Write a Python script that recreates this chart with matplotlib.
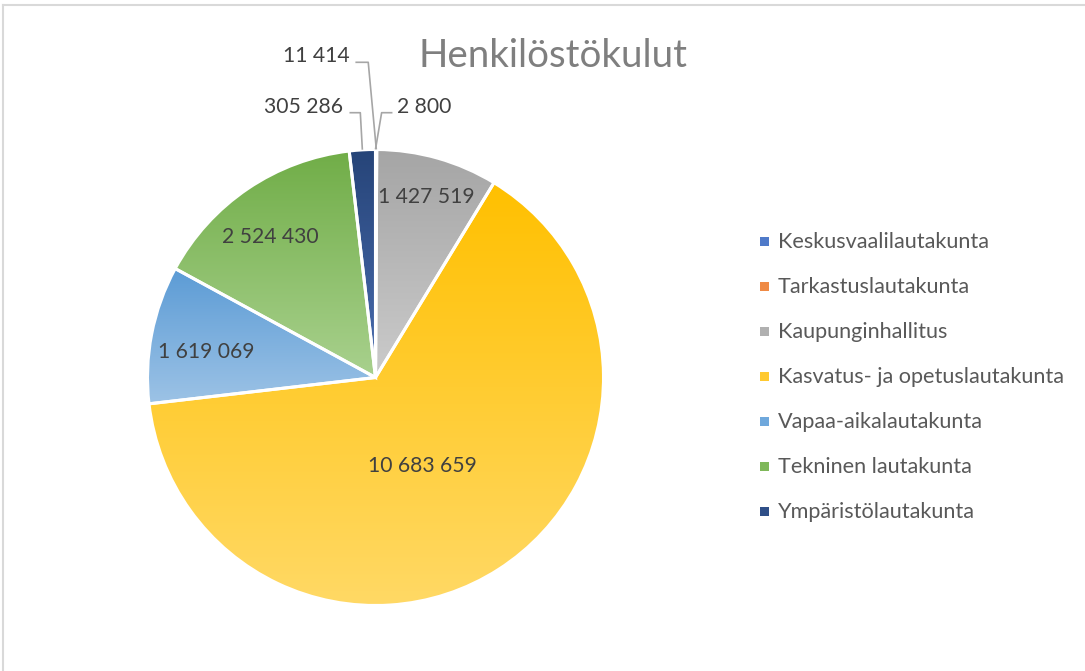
import numpy as np
import matplotlib
matplotlib.use("Agg")
import matplotlib.pyplot as plt
from matplotlib.colors import to_rgb, LinearSegmentedColormap
from matplotlib.patches import Wedge, Rectangle
from matplotlib.lines import Line2D

# ---- data ----
categories = ["Keskusvaalilautakunta", "Tarkastuslautakunta", "Kaupunginhallitus",
              "Kasvatus- ja opetuslautakunta", "Vapaa-aikalautakunta",
              "Tekninen lautakunta", "Ympäristölautakunta"]
values = [2800, 11414, 1427519, 10683659, 1619069, 2524430, 305286]
value_labels = ["2 800", "11 414", "1 427 519", "10 683 659", "1 619 069", "2 524 430", "305 286"]
title = "Henkilöstökulut"

# ---- styles ----
top_colors = ["#4472C4", "#ED7D31", "#A5A5A5", "#FFC000", "#5B9BD5", "#70AD47", "#264478"]
bottom_colors = ["#8FAADC", "#F4B183", "#CBCBCB", "#FFD966", "#9DC3E6", "#A9D18E", "#4A6DB0"]
legend_colors = ["#4F7AC9", "#EF8A45", "#B0B0B0", "#FFC930", "#6FA8DC", "#7FB85A", "#2F4F88"]

W, H = 1085, 671
plt.rcParams['font.family'] = ['Lato', 'DejaVu Sans']

fig = plt.figure(figsize=(W / 100, H / 100), dpi=100)
ax = fig.add_axes([0, 0, 1, 1])

def Y(py):
    return H - py

cx, cy, R = 375.5, Y(377.5), 228

wedges, _ = ax.pie(values, colors=top_colors, startangle=90, counterclock=False,
                   center=(cx, cy), radius=R,
                   wedgeprops=dict(edgecolor='none', linewidth=0))
ax.set_xlim(0, W)
ax.set_ylim(0, H)
ax.set_aspect('equal')
ax.axis('off')

# gradient fills, clipped to each wedge
for w, ct, cb in zip(wedges, top_colors, bottom_colors):
    verts = w.get_patch_transform().transform(w.get_path().vertices)
    x0, y0 = verts.min(axis=0)
    x1, y1 = verts.max(axis=0)
    cmap = LinearSegmentedColormap.from_list("g", [to_rgb(cb), to_rgb(ct)])
    grad = np.linspace(0, 1, 256).reshape(-1, 1)
    im = ax.imshow(grad, cmap=cmap, extent=(x0 - 1, x1 + 1, y0 - 1, y1 + 1),
                   origin='lower', aspect='auto', zorder=1.5, interpolation='bilinear')
    im.set_clip_path(w)
    ew = Wedge((cx, cy), R, w.theta1, w.theta2, facecolor='none',
               edgecolor='white', linewidth=2.2, zorder=2)
    ax.add_patch(ew)
ax.set_xlim(0, W)
ax.set_ylim(0, H)

def cw_dir(a_deg):
    a = np.radians(a_deg)
    return np.sin(a), np.cos(a)

# inside labels: (radial fraction, angle offset clockwise deg)
inside = {2: (0.82, -0.2), 3: (0.44, 4.7), 4: (0.75, -2.3), 5: (0.77, -2.8)}
label_color = "#404040"
lab_fs = 15.2
for i, (frac, off) in inside.items():
    w = wedges[i]
    mid_cw = 90 - (w.theta1 + w.theta2) / 2
    dx, dy = cw_dir(mid_cw + off)
    ax.text(cx + frac * R * dx, cy + frac * R * dy, value_labels[i], ha='center', va='center',
            fontsize=lab_fs, color=label_color, zorder=5)

# outside labels with leader lines: (elbow dx from edge, baseline pixel y, text gap, side)
outside = {0: (6, 112.7, 10, 'left'), 1: (-8, 62.3, 12, 'right'), 6: (-2, 112.7, 10, 'right')}
for i, (edx, by, horiz, side) in outside.items():
    w = wedges[i]
    mid_cw = 90 - (w.theta1 + w.theta2) / 2
    dx, dy = cw_dir(mid_cw)
    ex, ey = cx + R * dx, cy + R * dy + 1
    elx, ely = ex + edx, Y(by)
    if side == 'left':
        hx = elx + horiz
        tx = hx + 5
        ha = 'left'
    else:
        hx = elx - horiz
        tx = hx - 7
        ha = 'right'
    ax.add_line(Line2D([ex, elx, hx], [ey, ely, ely], color='#A6A6A6', lw=1.2, zorder=4))
    ax.text(tx, ely, value_labels[i], ha=ha, va='baseline', fontsize=lab_fs,
            color=label_color, zorder=5)

# title
ax.text(553, Y(67), title, ha='center', va='baseline', fontsize=27.7, color='#7F7F7F')

# legend
leg_y0, leg_dy = 241.7, 45
for k, (cat, col) in enumerate(zip(categories, legend_colors)):
    yy = Y(leg_y0 + k * leg_dy)
    ax.add_patch(Rectangle((760, yy - 4.5), 9, 9, facecolor=col, edgecolor='none'))
    ax.text(777.5, yy, cat, ha='left', va='center', fontsize=15.6, color='#595959')

# chart frame
fig.add_artist(Line2D([3 / W, 3 / W], [0, 1 - 5 / H], transform=fig.transFigure,
                      color='#D9D9D9', lw=1.5))
fig.add_artist(Line2D([3 / W, 1], [1 - 5 / H, 1 - 5 / H], transform=fig.transFigure,
                      color='#D9D9D9', lw=1.5))

fig.savefig("out.png", dpi=100, facecolor='white')
